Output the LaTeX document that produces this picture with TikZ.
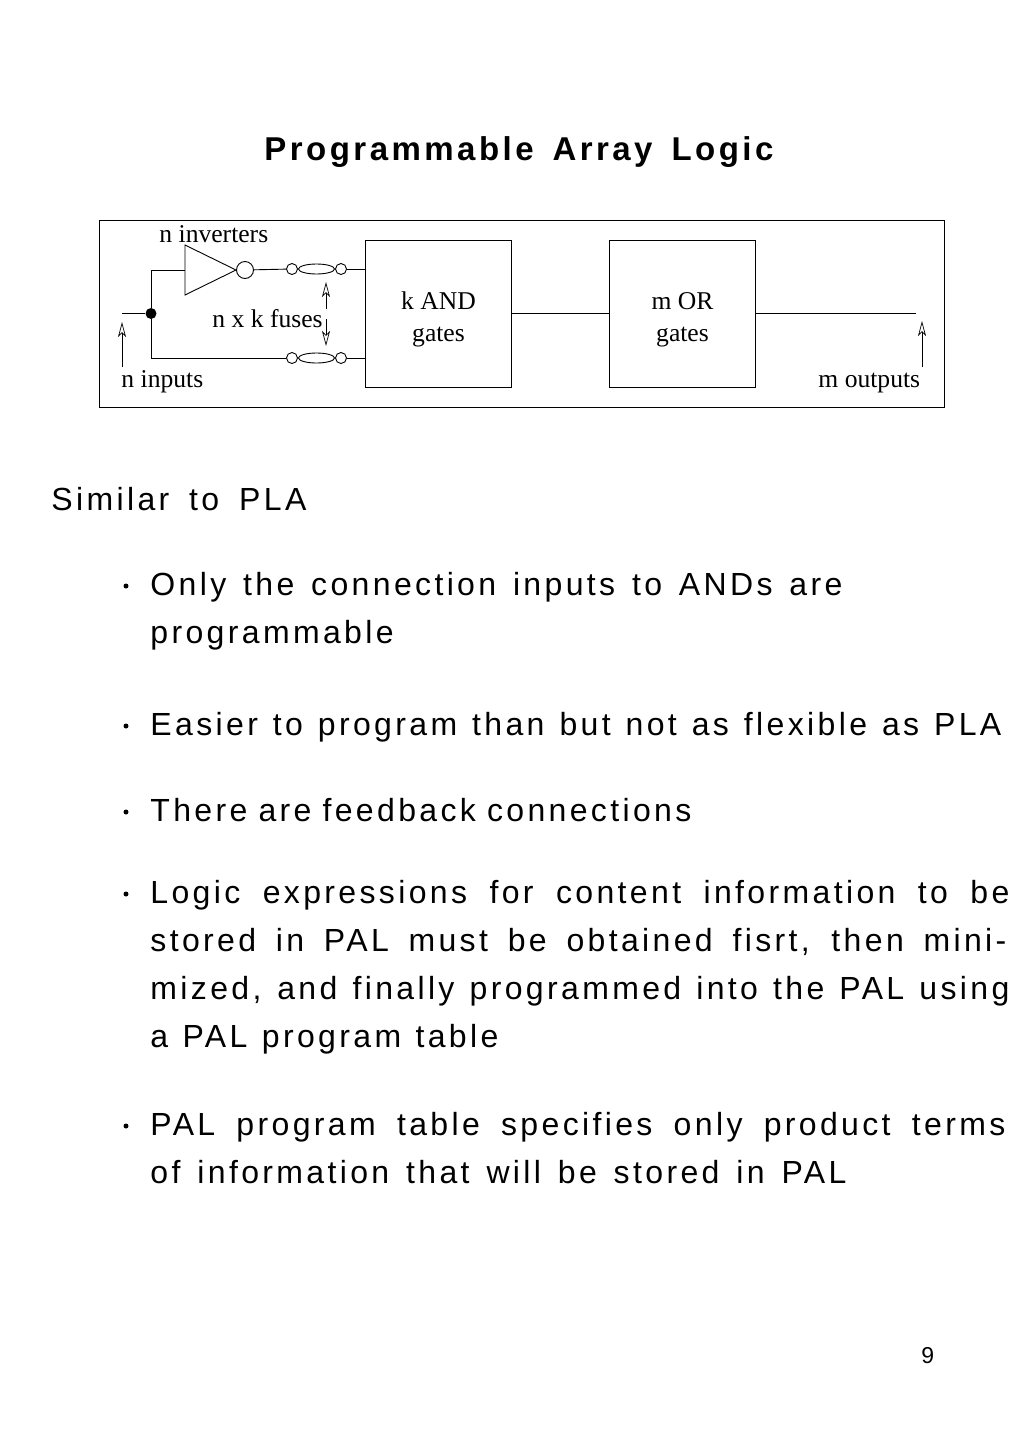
\documentclass[tikz,border=0pt]{standalone}
\usepackage{fontspec}
\setmainfont{Liberation Sans}[LetterSpace=10.5]
\newfontfamily\labelfont{Liberation Serif}
\usetikzlibrary{arrows.meta,shapes.geometric}
\tikzset{
  blockbox/.style={draw,line width=0.9pt,minimum width=146.5pt,minimum height=147pt,inner sep=0pt},
  blocktext/.style={inner sep=0pt,align=center,font=\labelfont\fontsize{25.6}{32}\selectfont},
  tag/.style={inner sep=0pt,anchor=base west,font=\labelfont\fontsize{25.6}{30}\selectfont},
  textline/.style={inner sep=0pt,anchor=base west,font=\fontsize{32}{38}\selectfont},
  dotmark/.style={circle,fill,inner sep=0pt,minimum size=5pt},
  fuseend/.style={draw,circle,inner sep=0pt,minimum size=11pt},
  fusebody/.style={draw,ellipse,inner sep=0pt,minimum width=36pt,minimum height=10pt},
  pointer/.style={-{Stealth[open,length=15pt,width=8pt,inset=4pt]},line width=0.7pt}
}
\newcommand{\fitline}[2]{\makebox[#1pt][s]{#2}}
\begin{document}
\begin{tikzpicture}[x=1pt,y=-1pt,line width=0.9pt]
  \useasboundingbox (0,0) rectangle (1024,1449);
  % heading
  \node[textline,font=\bfseries\fontsize{33}{38}\selectfont] (title) at (264,160) {\fitline{509}{Programmable Array Logic}};
  % block diagram
  \node[draw,minimum width=845pt,minimum height=187pt,inner sep=0pt] (frame) at (521.5,313.5) {};
  \node[blockbox] (andbox) at (438.25,313.5) {};
  \node[blockbox] (orbox) at (682.25,313.5) {};
  \node[blocktext] (andtext) at (438.5,319) {k AND\\gates};
  \node[blocktext] (ortext) at (682.5,320) {m OR\\gates};
  \coordinate (invtop) at (185,245);
  \coordinate (invbot) at (185,295);
  \coordinate (invtip) at (236,270);
  \coordinate (invin) at (185,270);
  \draw (invtop) -- (invbot) -- (invtip) -- cycle;
  \node[draw,circle,inner sep=0pt,minimum size=17pt] (bubble) at (245,270) {};
  \node[circle,fill,inner sep=0pt,minimum size=11pt] (joint) at (151,313.5) {};
  \node[fuseend] (fa) at (292,269) {};
  \node[fuseend] (fb) at (341,269) {};
  \node[fusebody] (fab) at (316.5,269) {};
  \node[fuseend] (fc) at (292,358) {};
  \node[fuseend] (fd) at (341,358) {};
  \node[fusebody] (fcd) at (316.5,358) {};
  \coordinate (inend) at (122,313.5);
  \coordinate (outend) at (916,313.5);
  \coordinate (inarrow) at (122,367);
  \coordinate (intip) at (122,322);
  \coordinate (outarrow) at (922,367);
  \coordinate (outtip) at (922,321);
  \coordinate (uparrow) at (326,309);
  \coordinate (uptip) at (326,282);
  \coordinate (downarrow) at (326,319);
  \coordinate (downtip) at (326,346);
  \draw (inend) -- (joint);
  \draw (joint) |- (invin);
  \draw (joint) |- (fc);
  \draw (bubble) -- (fa);
  \draw (fb) -- (andbox.west |- fb);
  \draw (fd) -- (andbox.west |- fd);
  \draw (andbox) -- (orbox);
  \draw (orbox) -- (outend);
  \draw[pointer] (inarrow) -- (intip);
  \draw[pointer] (outarrow) -- (outtip);
  \draw[pointer] (uparrow) -- (uptip);
  \draw[pointer] (downarrow) -- (downtip);
  \node[tag] (invlabel) at (159,242) {n inverters};
  \node[tag] (fuselabel) at (212,327) {n x k fuses};
  \node[tag] (inlabel) at (121,387) {n inputs};
  \node[tag] (outlabel) at (818,387) {m outputs};
  % body text
  \node[textline] (similar) at (51,510) {\fitline{255}{Similar to PLA}};
  \node[dotmark] (dota) at (126,586) {};
  \node[textline] (linea) at (150,595) {\fitline{692}{Only the connection inputs to ANDs are}};
  \node[textline] (lineb) at (150,643) {\fitline{244}{programmable}};
  \node[dotmark] (dotb) at (126,726) {};
  \node[textline] (linec) at (150,735) {\fitline{851}{Easier to program than but not as flexible as PLA}};
  \node[dotmark] (dotc) at (126,812) {};
  \node[textline] (lined) at (150,821) {\fitline{541}{There are feedback connections}};
  \node[dotmark] (dotd) at (126,894) {};
  \node[textline] (linee) at (150,903) {\fitline{859}{Logic expressions for content information to be}};
  \node[textline] (linef) at (150,951) {\fitline{856}{stored in PAL must be obtained fisrt, then mini-}};
  \node[textline] (lineg) at (150,999) {\fitline{859}{mized, and finally programmed into the PAL using}};
  \node[textline] (lineh) at (150,1047) {\fitline{348}{a PAL program table}};
  \node[dotmark] (dote) at (126,1126) {};
  \node[textline] (linei) at (150,1135) {\fitline{855}{PAL program table specifies only product terms}};
  \node[textline] (linej) at (150,1183) {\fitline{696}{of information that will be stored in PAL}};
  \node[inner sep=0pt,anchor=base west,font=\addfontfeature{LetterSpace=0}\fontsize{23}{28}\selectfont] (pagenum) at (921,1363) {9};
\end{tikzpicture}
\end{document}
